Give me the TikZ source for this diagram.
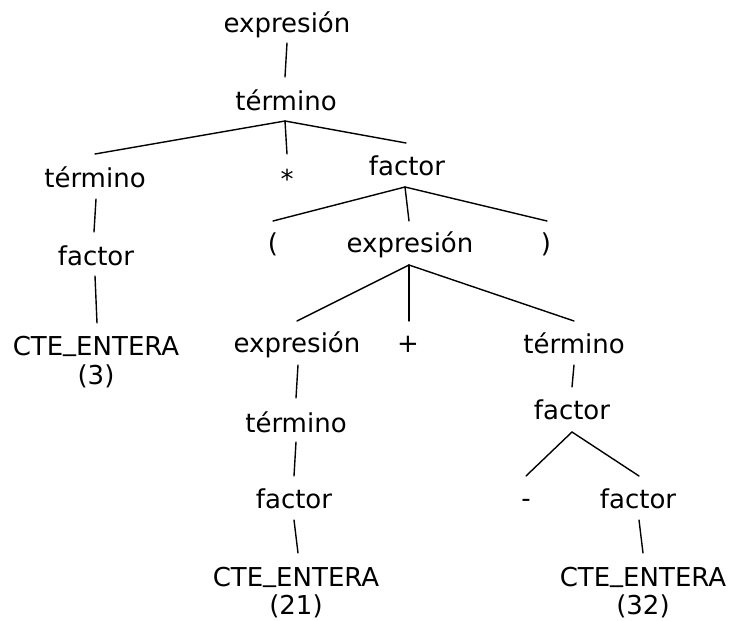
\documentclass[tikz,border=0pt]{standalone}
\usepackage{fontspec}
\setmainfont{DejaVu Sans}
\newcommand{\usc}{\raisebox{5pt}{\_}}
\begin{document}
\begin{tikzpicture}[x=1pt,y=-1pt,
  lbl/.style={anchor=base,inner sep=0pt,font=\fontsize{26}{30}\selectfont},
  edge/.style={line width=1.4pt,line cap=round}]
\useasboundingbox (0,0) rectangle (729,621);
% labels
\node[lbl] (e1) at (287,32) {expresión};
\node[lbl] (t1) at (286,110) {término};
\node[lbl] (t2) at (95,187) {término};
\node[lbl] (star) at (287,188) {*};
\node[lbl] (f1) at (407,175) {factor};
\node[lbl] (f2) at (96,265) {factor};
\node[lbl] (c1) at (96,355) {CTE\usc ENTERA};
\node[lbl] (c1n) at (96,384) {(3)};
\node[lbl] (lp) at (273,252) {(};
\node[lbl] (e2) at (410,252) {expresión};
\node[lbl] (rp) at (546,252) {)};
\node[lbl] (e3) at (297,352) {expresión};
\node[lbl] (plus) at (408,352) {+};
\node[lbl] (t3) at (574,353) {término};
\node[lbl] (t4) at (296,432) {término};
\node[lbl] (f3) at (572,419) {factor};
\node[lbl] (f4) at (294,508) {factor};
\node[lbl] (minus) at (526,507) {-};
\node[lbl] (f5) at (638,508) {factor};
\node[lbl] (c2) at (296,586) {CTE\usc ENTERA};
\node[lbl] (c2n) at (296,614) {(21)};
\node[lbl] (c3) at (643,586) {CTE\usc ENTERA};
\node[lbl] (c3n) at (643,614) {(32)};
% connector end points
\coordinate (e1b) at (287,43);   \coordinate (t1a) at (285,77);
\coordinate (t1b) at (285,121);
\coordinate (t2a) at (95,154);   \coordinate (stara) at (287,154);
\coordinate (f1a) at (406,143);
\coordinate (t2b) at (96,199);   \coordinate (f2a) at (94,232);
\coordinate (f2b) at (95,276);   \coordinate (c1a) at (97,323);
\coordinate (f1b) at (405,187);
\coordinate (lpa) at (273,221);  \coordinate (e2a) at (409,221);
\coordinate (rpa) at (547,221);
\coordinate (e2b) at (409,265);
\coordinate (e3a) at (297,321);  \coordinate (plusa) at (409,321);
\coordinate (t3a) at (574,321);
\coordinate (e3b) at (298,365);  \coordinate (t4a) at (296,398);
\coordinate (t3b) at (574,365);  \coordinate (f3a) at (572,387);
\coordinate (t4b) at (296,442);  \coordinate (f4a) at (294,476);
\coordinate (f3b) at (572,432);
\coordinate (minusa) at (526,476); \coordinate (f5a) at (639,476);
\coordinate (f4b) at (294,520);  \coordinate (c2a) at (298,553);
\coordinate (f5b) at (639,520);  \coordinate (c3a) at (643,553);
% connectors
\draw[edge] (e1b) -- (t1a);
\draw[edge] (t1b) -- (t2a);
\draw[edge] (t1b) -- (stara);
\draw[edge] (t1b) -- (f1a);
\draw[edge] (t2b) -- (f2a);
\draw[edge] (f2b) -- (c1a);
\draw[edge] (f1b) -- (lpa);
\draw[edge] (f1b) -- (e2a);
\draw[edge] (f1b) -- (rpa);
\draw[edge] (e2b) -- (e3a);
\draw[edge] (e2b) -- (plusa);
\draw[edge] (e2b) -- (t3a);
\draw[edge] (e3b) -- (t4a);
\draw[edge] (t3b) -- (f3a);
\draw[edge] (t4b) -- (f4a);
\draw[edge] (f3b) -- (minusa);
\draw[edge] (f3b) -- (f5a);
\draw[edge] (f4b) -- (c2a);
\draw[edge] (f5b) -- (c3a);
\end{tikzpicture}
\end{document}
